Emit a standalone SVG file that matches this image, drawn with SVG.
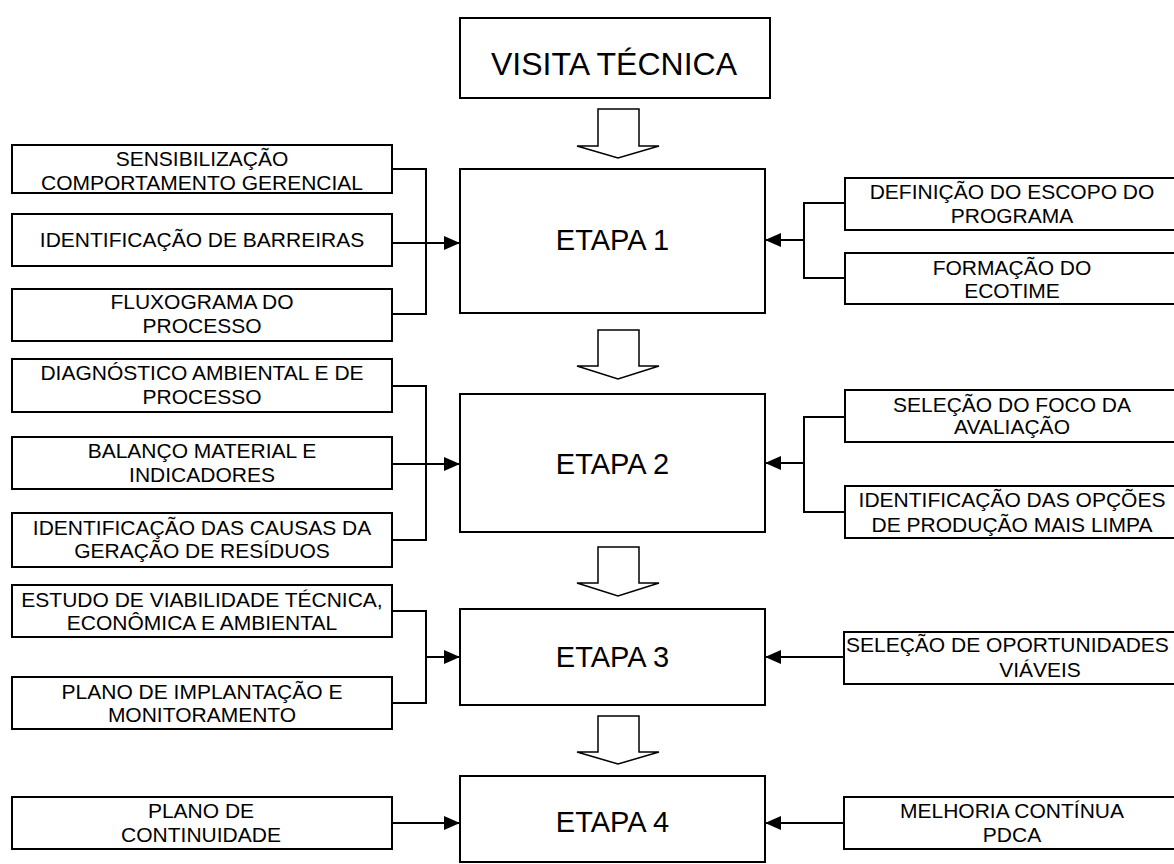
<svg xmlns="http://www.w3.org/2000/svg" width="1174" height="864" viewBox="0 0 1174 864">
<defs>
<style>
.box{fill:#fff;stroke:#000;stroke-width:2}
.big{fill:#fff;stroke:#000;stroke-width:2}
.t{font-family:"Liberation Sans",Arial,sans-serif;font-size:21px;fill:#000;text-anchor:middle}
.tb{font-family:"Liberation Sans",Arial,sans-serif;font-size:29px;fill:#000;text-anchor:middle}
.tv{font-family:"Liberation Sans",Arial,sans-serif;font-size:32px;fill:#000;text-anchor:middle}
.c{fill:none;stroke:#000;stroke-width:2}
.h{fill:#fff;stroke:#000;stroke-width:1.5;stroke-linejoin:miter}
</style>
<marker id="ah" viewBox="0 0 16 14" refX="16" refY="7" markerWidth="16" markerHeight="14" markerUnits="userSpaceOnUse" orient="auto">
<path d="M0,0 L16,7 L0,14 Z" fill="#000"/>
</marker>
</defs>
<rect width="1174" height="864" fill="#fff"/>

<g id="visita">
<rect class="big" x="460" y="18" width="310" height="80"/>
<text class="tv" x="614" y="75">VISITA TÉCNICA</text>
</g>

<g id="etapa1">
<rect class="big" x="460" y="169" width="305" height="144"/>
<text class="tb" x="612.5" y="250">ETAPA 1</text>
</g>
<g id="etapa2">
<rect class="big" x="460" y="394" width="305" height="138"/>
<text class="tb" x="612.5" y="474">ETAPA 2</text>
</g>
<g id="etapa3">
<rect class="big" x="460" y="609" width="305" height="96"/>
<text class="tb" x="612.5" y="667">ETAPA 3</text>
</g>
<g id="etapa4">
<rect class="big" x="460" y="776" width="305" height="86"/>
<text class="tb" x="612.5" y="832">ETAPA 4</text>
</g>

<g id="l1a"><rect class="box" x="12" y="145" width="380" height="48"/>
<text class="t" x="202" y="166">SENSIBILIZAÇÃO</text><text class="t" x="202" y="190">COMPORTAMENTO GERENCIAL</text></g>
<g id="l1b"><rect class="box" x="12" y="214" width="380" height="52"/>
<text class="t" x="202" y="247">IDENTIFICAÇÃO DE BARREIRAS</text></g>
<g id="l1c"><rect class="box" x="12" y="289" width="380" height="52"/>
<text class="t" x="202" y="309">FLUXOGRAMA DO</text><text class="t" x="202" y="333">PROCESSO</text></g>

<g id="r1a"><rect class="box" x="845" y="178" width="335" height="52"/>
<text class="t" x="1012" y="199">DEFINIÇÃO DO ESCOPO DO</text><text class="t" x="1012" y="223">PROGRAMA</text></g>
<g id="r1b"><rect class="box" x="845" y="253" width="335" height="51"/>
<text class="t" x="1012" y="275">FORMAÇÃO DO</text><text class="t" x="1012" y="298">ECOTIME</text></g>

<g id="l2a"><rect class="box" x="12" y="359" width="380" height="53"/>
<text class="t" x="202" y="380">DIAGNÓSTICO AMBIENTAL E DE</text><text class="t" x="202" y="404">PROCESSO</text></g>
<g id="l2b"><rect class="box" x="12" y="437" width="380" height="52"/>
<text class="t" x="202" y="458">BALANÇO MATERIAL E</text><text class="t" x="202" y="482">INDICADORES</text></g>
<g id="l2c"><rect class="box" x="12" y="513" width="380" height="54"/>
<text class="t" x="202" y="535">IDENTIFICAÇÃO DAS CAUSAS DA</text><text class="t" x="202" y="558">GERAÇÃO DE RESÍDUOS</text></g>

<g id="r2a"><rect class="box" x="845" y="390" width="335" height="52"/>
<text class="t" x="1012" y="412">SELEÇÃO DO FOCO DA</text><text class="t" x="1012" y="434">AVALIAÇÃO</text></g>
<g id="r2b"><rect class="box" x="845" y="486" width="335" height="52"/>
<text class="t" x="1012" y="507">IDENTIFICAÇÃO DAS OPÇÕES</text><text class="t" x="1012" y="532">DE PRODUÇÃO MAIS LIMPA</text></g>

<g id="l3a"><rect class="box" x="12" y="585" width="380" height="52"/>
<text class="t" x="202" y="607">ESTUDO DE VIABILIDADE TÉCNICA,</text><text class="t" x="202" y="630">ECONÔMICA E AMBIENTAL</text></g>
<g id="l3b"><rect class="box" x="12" y="677" width="380" height="52"/>
<text class="t" x="202" y="699">PLANO DE IMPLANTAÇÃO E</text><text class="t" x="202" y="722">MONITORAMENTO</text></g>

<g id="r3"><rect class="box" x="844" y="632" width="336" height="52"/>
<text class="t" x="846" y="652" style="text-anchor:start">SELEÇÃO DE OPORTUNIDADES</text><text class="t" x="1040" y="677">VIÁVEIS</text></g>

<g id="l4"><rect class="box" x="12" y="797" width="380" height="52"/>
<text class="t" x="201" y="818">PLANO DE</text><text class="t" x="201" y="842">CONTINUIDADE</text></g>
<g id="r4"><rect class="box" x="844" y="797" width="336" height="52"/>
<text class="t" x="1012" y="818">MELHORIA CONTÍNUA</text><text class="t" x="1012" y="842">PDCA</text></g>

<g id="connectors">
<polygon class="h" points="598,109 639,109 639,146 659,146 618,158 577,146 598,146"/>
<polygon class="h" points="598,330 639,330 639,366 659,366 618,379 577,366 598,366"/>
<polygon class="h" points="598,547 639,547 639,583 659,583 618,596 577,583 598,583"/>
<polygon class="h" points="598,716 639,716 639,752 659,752 618,764 577,752 598,752"/>

<path class="c" d="M392,169 H426 V314 H392"/>
<path class="c" d="M392,243 H460" marker-end="url(#ah)"/>
<path class="c" d="M845,203 H804 V278 H845"/>
<path class="c" d="M804,240 H765" marker-end="url(#ah)"/>

<path class="c" d="M392,386 H426 V540 H392"/>
<path class="c" d="M392,464 H460" marker-end="url(#ah)"/>
<path class="c" d="M845,417 H804 V512 H845"/>
<path class="c" d="M804,463 H765" marker-end="url(#ah)"/>

<path class="c" d="M392,611 H426 V703 H392"/>
<path class="c" d="M426,657 H460" marker-end="url(#ah)"/>
<path class="c" d="M844,657 H765" marker-end="url(#ah)"/>

<path class="c" d="M392,823 H460" marker-end="url(#ah)"/>
<path class="c" d="M844,823 H765" marker-end="url(#ah)"/>
</g>
</svg>
